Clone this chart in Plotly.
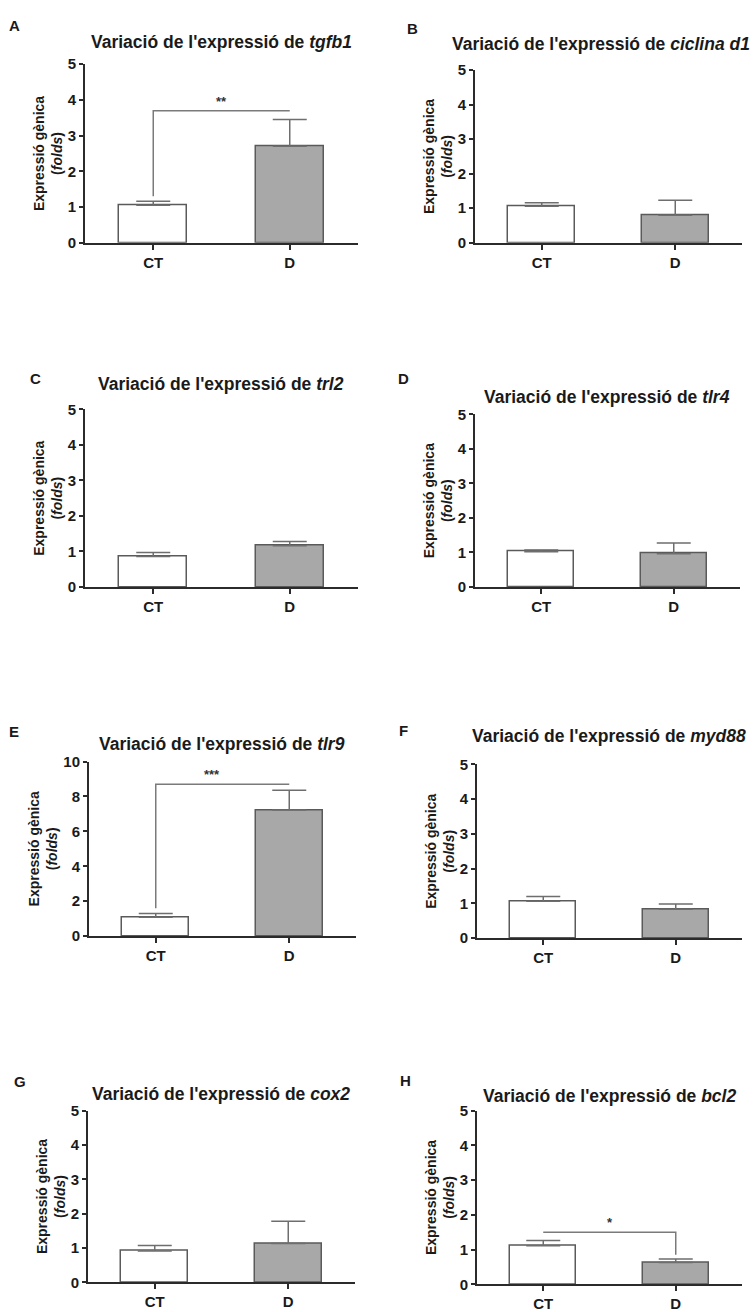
import plotly.graph_objects as go

W, H = 755, 1312

categories = ["CT", "D"]
panel_letters = ["A", "B", "C", "D", "E", "F", "G", "H"]
genes = ["tgfb1", "ciclina d1", "trl2", "tlr4", "tlr9", "myd88", "cox2", "bcl2"]
mean_ct = [1.05, 1.06, 0.86, 1.02, 1.08, 1.06, 0.91, 1.11]
mean_d = [2.70, 0.80, 1.16, 0.96, 7.22, 0.83, 1.13, 0.63]
sem_ct = [0.11, 0.10, 0.11, 0.05, 0.22, 0.14, 0.16, 0.15]
sem_d = [0.75, 0.43, 0.12, 0.31, 1.14, 0.15, 0.65, 0.10]
y_max = [5, 5, 5, 5, 10, 5, 5, 5]
y_dtick = [1, 1, 1, 1, 2, 1, 1, 1]

# significance brackets: panel index, bar height, left foot, right foot, label, label x
sig_panel = [0, 4, 7]
sig_height = [3.7, 8.7, 1.5]
sig_left_foot = [1.3, 1.6, None]
sig_right_foot = [None, None, 0.85]
sig_label = ["**", "***", "*"]
sig_label_x = [0.5, 0.42, 0.5]

# layout geometry (pixels): x-left, x-right, y-bottom(0), y-top(max), title y, letter x, letter y, title x, title anchor
geo = [
    (85, 358, 237, 56, 33, 14, 17, 221, "center"),
    (475, 742, 237, 62, 35, 412, 20, 752, "right"),
    (85, 358, 586, 406, 380, 35, 375, 221, "center"),
    (475, 740, 586, 411, 393, 403, 375, 607, "center"),
    (89, 356, 940, 763, 745, 14, 733, 222, "center"),
    (477, 742, 942, 766, 737, 403, 732, 609, "center"),
    (88, 355, 1291, 1117, 1100, 20, 1087, 221, "center"),
    (477, 742, 1293, 1117, 1102, 405, 1086, 609, "center"),
]

FONT = "Liberation Sans, Arial, sans-serif"
AX = "#2b2b2b"
TXT = "#1a1a1a"

fig = go.Figure()
annotations = []
shapes = []
layout_axes = {}

for i in range(8):
    xl, xr, yb, yt, ty, lx, ly, tx, tanchor = geo[i]
    n = "" if i == 0 else str(i + 1)
    xa, ya = "x" + n, "y" + n
    fig.add_trace(go.Bar(
        x=[0, 1], y=[mean_ct[i], mean_d[i]], width=0.5,
        marker=dict(color=["#ffffff", "#a8a8a8"], line=dict(color="#5a5a5a", width=1.5)),
        error_y=dict(type="data", symmetric=False, array=[sem_ct[i], sem_d[i]],
                     arrayminus=[0, 0], color="#6e6e6e", thickness=1.5, width=17),
        xaxis=xa, yaxis=ya, showlegend=False,
    ))
    layout_axes["xaxis" + n] = dict(
        domain=[xl / W, xr / W], anchor=ya, range=[-0.5, 1.5],
        tickvals=[0, 1], ticktext=categories, showline=True, linecolor=AX, linewidth=2,
        ticks="outside", ticklen=5, tickwidth=2, tickcolor=AX, showgrid=False, zeroline=False,
        tickfont=dict(family=FONT, size=15, color=TXT, weight="bold"), fixedrange=True,
    )
    layout_axes["yaxis" + n] = dict(
        domain=[1 - yb / H, 1 - yt / H], anchor=xa, range=[0, y_max[i]],
        dtick=y_dtick[i], tick0=0, showline=True, linecolor=AX, linewidth=2,
        ticks="outside", ticklen=4, tickwidth=2, tickcolor=AX, showgrid=False, zeroline=False,
        tickfont=dict(family=FONT, size=15, color=TXT, weight="bold"),
        title=dict(text="Expressió gènica<br>(<i>folds</i>)", standoff=2,
                   font=dict(family=FONT, size=14, color=TXT, weight="bold")),
        fixedrange=True,
    )
    annotations.append(dict(
        xref="paper", yref="paper", x=tx / W, y=1 - ty / H,
        text="Variació de l'expressió de <i>" + genes[i] + "</i>", showarrow=False,
        font=dict(family=FONT, size=17.5, color=TXT, weight="bold"),
        xanchor=tanchor, yanchor="middle",
    ))
    annotations.append(dict(
        xref="paper", yref="paper", x=lx / W, y=1 - ly / H, text=panel_letters[i],
        showarrow=False, font=dict(family=FONT, size=15, color=TXT, weight="bold"),
        xanchor="center", yanchor="middle",
    ))

for k in range(len(sig_panel)):
    i = sig_panel[k]
    n = "" if i == 0 else str(i + 1)
    xa, ya = "x" + n, "y" + n
    h = sig_height[k]
    pts = []
    if sig_left_foot[k] is not None:
        pts.append((0, sig_left_foot[k]))
    pts.append((0, h))
    pts.append((1, h))
    if sig_right_foot[k] is not None:
        pts.append((1, sig_right_foot[k]))
    path = "M " + " L ".join(f"{px},{py}" for px, py in pts)
    shapes.append(dict(type="path", path=path, xref=xa, yref=ya,
                       line=dict(color="#7a7a7a", width=1.5)))
    annotations.append(dict(
        xref=xa, yref=ya, x=sig_label_x[k], y=h, text=sig_label[k], showarrow=False,
        yanchor="bottom", yshift=0, font=dict(family=FONT, size=13, color="#333333", weight="bold"),
    ))

fig.update_layout(
    width=W, height=H, margin=dict(l=0, r=0, t=0, b=0),
    paper_bgcolor="white", plot_bgcolor="white",
    annotations=annotations, shapes=shapes, bargap=0, **layout_axes,
)

fig.write_html("out.html")
